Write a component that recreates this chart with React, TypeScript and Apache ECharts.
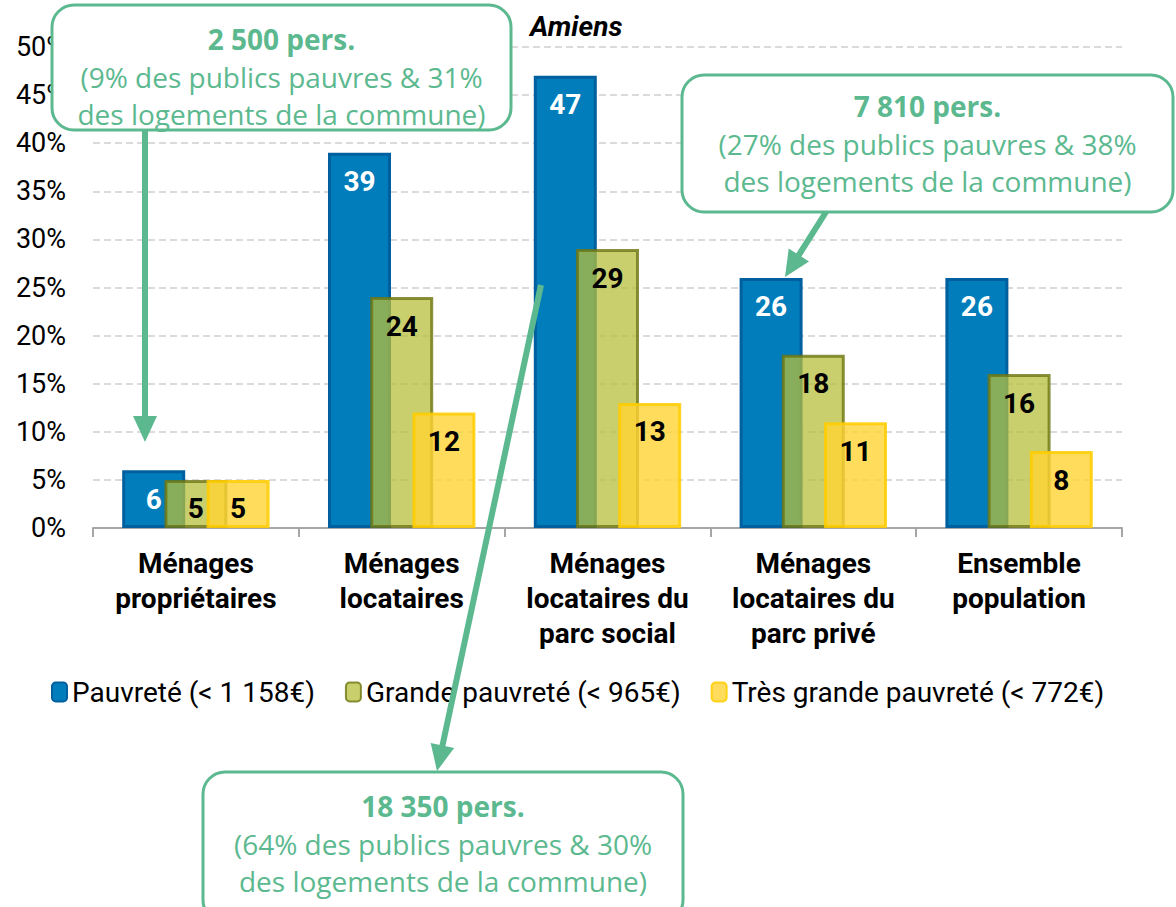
import React, { useEffect, useRef } from "react";
import * as echarts from "echarts";

const categories = [
  "Ménages\npropriétaires",
  "Ménages\nlocataires",
  "Ménages\nlocataires du\nparc social",
  "Ménages\nlocataires du\nparc privé",
  "Ensemble\npopulation",
];
const seriesNames = [
  "Pauvreté (< 1 158€)",
  "Grande pauvreté (< 965€)",
  "Très grande pauvreté (< 772€)",
];
const pauvrete = [6, 39, 47, 26, 26];
const grandePauvrete = [5, 24, 29, 18, 16];
const tresGrandePauvrete = [5, 12, 13, 11, 8];
const yMax = 50;
const yInterval = 5;

const annotations = [
  { title: "2 500 pers.", line1: "(9% des publics pauvres & 31%", line2: "des logements de la commune)" },
  { title: "7 810 pers.", line1: "(27% des publics pauvres & 38%", line2: "des logements de la commune)" },
  { title: "18 350 pers.", line1: "(64% des publics pauvres & 30%", line2: "des logements de la commune)" },
];

const GREEN = "#5cb98f";
const FONT = "Roboto";
const NOTE_FONT = "Open Sans";

function arrow(x1: number, y1: number, x2: number, y2: number) {
  const headLen = 26;
  const headHalf = 12;
  const dx = x2 - x1;
  const dy = y2 - y1;
  const L = Math.hypot(dx, dy);
  const ux = dx / L;
  const uy = dy / L;
  const bx = x2 - ux * headLen;
  const by = y2 - uy * headLen;
  const px = -uy;
  const py = ux;
  return [
    {
      type: "line",
      z: 100,
      shape: { x1, y1, x2: bx + ux * 2, y2: by + uy * 2 },
      style: { stroke: GREEN, lineWidth: 6 },
    },
    {
      type: "polygon",
      z: 100,
      shape: {
        points: [
          [x2, y2],
          [bx + px * headHalf, by + py * headHalf],
          [bx - px * headHalf, by - py * headHalf],
        ],
      },
      style: { fill: GREEN },
    },
  ];
}

function noteBox(
  a: { title: string; line1: string; line2: string },
  x: number,
  y: number,
  w: number,
  h: number,
  ty: number
) {
  const cx = x + w / 2;
  const txt = (text: string, yy: number, bold: boolean) => ({
    type: "text",
    z: 101,
    style: {
      text,
      x: cx,
      y: yy,
      align: "center",
      verticalAlign: "middle",
      fill: GREEN,
      fontFamily: NOTE_FONT,
      fontSize: 28,
      fontWeight: bold ? "bold" : "normal",
    },
  });
  return [
    {
      type: "rect",
      z: 100,
      shape: { x, y, width: w, height: h, r: 22 },
      style: { fill: "#ffffff", stroke: GREEN, lineWidth: 3 },
    },
    txt(a.title, ty, true),
    txt(a.line1, ty + 38, false),
    txt(a.line2, ty + 75, false),
  ];
}

export default function App() {
  const ref = useRef<HTMLDivElement>(null);
  useEffect(() => {
    if (!ref.current) return;
    const chart = echarts.init(ref.current, null, { renderer: "svg" });
    const labelBase = {
      show: true,
      position: "insideTop",
      distance: 15,
      fontFamily: FONT,
      fontSize: 28,
      fontWeight: "bold",
    };
    const option = {
      animation: false,
      backgroundColor: "#ffffff",
      title: {
        text: "Amiens",
        left: 525,
        top: 7,
        textStyle: {
          fontFamily: FONT,
          fontStyle: "italic",
          fontWeight: "bold",
          fontSize: 28,
          color: "#000",
        },
      },
      grid: { left: 93, right: 54, top: 47, bottom: 379 },
      legend: {
        left: 46,
        top: 673,
        itemWidth: 15,
        itemHeight: 19,
        itemGap: 30,
        textStyle: { fontFamily: FONT, fontSize: 28, color: "#000" },
        data: seriesNames,
      },
      xAxis: {
        type: "category",
        data: categories,
        axisLine: { lineStyle: { color: "#a6a6a6", width: 2 } },
        axisTick: { show: true, length: 9, lineStyle: { color: "#a6a6a6", width: 2 } },
        axisLabel: {
          interval: 0,
          margin: 18,
          fontFamily: FONT,
          fontSize: 28,
          fontWeight: "bold",
          lineHeight: 35,
          color: "#000",
        },
      },
      yAxis: {
        type: "value",
        min: 0,
        max: yMax,
        interval: yInterval,
        axisLine: { show: false },
        axisTick: { show: false },
        axisLabel: {
          formatter: "{value}%",
          margin: 27,
          fontFamily: FONT,
          fontSize: 27,
          color: "#000",
        },
        splitLine: { lineStyle: { color: "#d0d0d0", type: [7, 4], width: 1.5 } },
      },
      series: [
        {
          name: seriesNames[0],
          type: "bar",
          data: pauvrete,
          barWidth: 63,
          barGap: "-33%",
          itemStyle: { color: "#007dba", borderColor: "#005f9e", borderWidth: 3 },
          label: { ...labelBase, color: "#ffffff" },
        },
        {
          name: seriesNames[1],
          type: "bar",
          data: grandePauvrete,
          barWidth: 63,
          barGap: "-33%",
          itemStyle: {
            color: "rgba(182,191,59,0.75)",
            borderColor: "rgba(110,117,16,0.8)",
            borderWidth: 3,
          },
          label: { ...labelBase, color: "#000000" },
        },
        {
          name: seriesNames[2],
          type: "bar",
          data: tresGrandePauvrete,
          barWidth: 63,
          barGap: "-33%",
          itemStyle: {
            color: "rgba(255,211,51,0.8)",
            borderColor: "rgba(255,204,0,0.85)",
            borderWidth: 3,
          },
          label: { ...labelBase, color: "#000000" },
        },
      ],
      graphic: [
        ...arrow(145, 130, 145, 442),
        ...arrow(826, 212, 785, 277),
        ...arrow(541, 285, 437, 771),
        ...noteBox(annotations[0], 52, 5, 459, 125, 39),
        ...noteBox(annotations[1], 682, 75, 491, 137, 106),
        ...noteBox(annotations[2], 203, 772, 480, 150, 806),
      ],
    };
    chart.setOption(option as any);
    return () => chart.dispose();
  }, []);
  return (
    <div
      ref={ref}
      style={{ position: "fixed", left: 0, top: 0, width: 1176, height: 907 }}
    />
  );
}
